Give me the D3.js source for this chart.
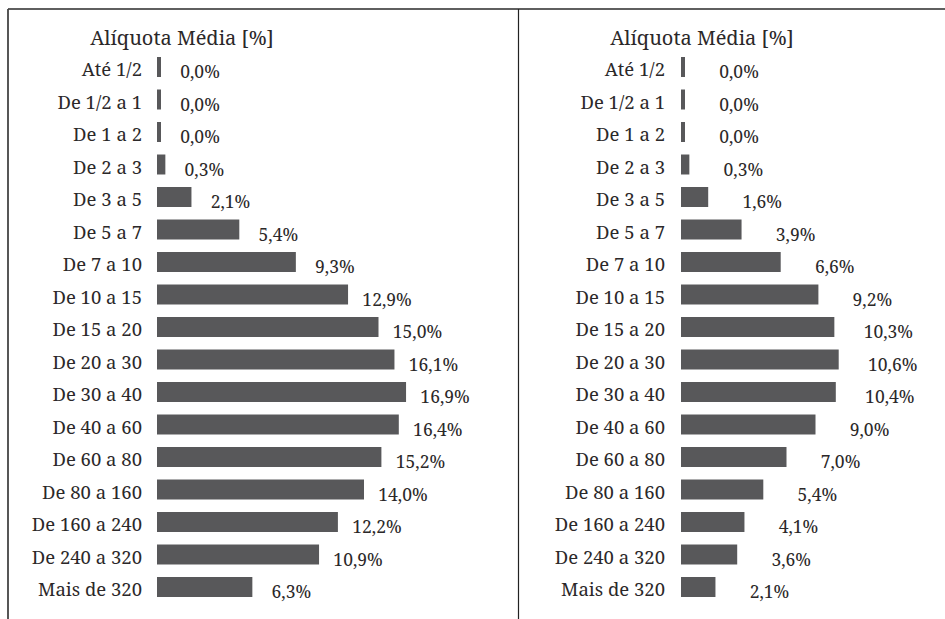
<!DOCTYPE html>
<html>
<head>
<meta charset="utf-8">
<script src="https://cdn.jsdelivr.net/npm/d3@7"></script>
<style>
  body { margin: 0; background: #fff; }
</style>
</head>
<body>
<svg width="945" height="619"></svg>
<script>
var svg = d3.select('svg');

// faixas de renda (em salários mínimos)
var faixas = ["Até 1/2", "De 1/2 a 1", "De 1 a 2", "De 2 a 3", "De 3 a 5", "De 5 a 7",
  "De 7 a 10", "De 10 a 15", "De 15 a 20", "De 20 a 30", "De 30 a 40", "De 40 a 60",
  "De 60 a 80", "De 80 a 160", "De 160 a 240", "De 240 a 320", "Mais de 320"];

var aliquotaEsq = [0.0, 0.0, 0.0, 0.3, 2.1, 5.4, 9.3, 12.9, 15.0, 16.1, 16.9, 16.4, 15.2, 14.0, 12.2, 10.9, 6.3];
var aliquotaDir = [0.0, 0.0, 0.0, 0.3, 1.6, 3.9, 6.6, 9.2, 10.3, 10.6, 10.4, 9.0, 7.0, 5.4, 4.1, 3.6, 2.1];

var titulo = "Alíquota Média [%]";

var fonte = "'Noto Serif', 'Times New Roman', Times, Tinos, FreeSerif, 'Nimbus Roman', 'Liberation Serif', 'DejaVu Serif', Georgia, serif";
var corTexto = "#2b2829";

var pt = d3.formatLocale({decimal: ",", thousands: ".", grouping: [3], currency: ["R$", ""]});
var fmt = pt.format(".1f");

// escala comum aos dois painéis
var x = d3.scaleLinear().domain([0, 20]).range([0, 290]);
var minW = 4;

var y = d3.scaleBand()
  .domain(faixas)
  .range([50.75, 603.25])
  .paddingInner(0.385)
  .paddingOuter(0.1925);

// moldura
svg.append("line").attr("x1", 8).attr("x2", 945).attr("y1", 9).attr("y2", 9)
  .attr("stroke", "#2a2a2a").attr("stroke-width", 1.6);
svg.append("line").attr("x1", 8).attr("x2", 8).attr("y1", 9).attr("y2", 619)
  .attr("stroke", "#444").attr("stroke-width", 1.8);
svg.append("line").attr("x1", 518.5).attr("x2", 518.5).attr("y1", 9).attr("y2", 619)
  .attr("stroke", "#222").attr("stroke-width", 1.2);

var paineis = [
  {valores: aliquotaEsq, x0: 157, labelX: 142, titleX: 182, off: 39},
  {valores: aliquotaDir, x0: 681, labelX: 665, titleX: 702, off: 54}
];

paineis.forEach(function(p) {
  var g = svg.append("g")
    .attr("font-family", fonte)
    .attr("fill", corTexto);
  var dados = faixas.map(function(f, i) { return {faixa: f, v: p.valores[i]}; });

  g.append("text")
    .attr("x", p.titleX)
    .attr("y", 45)
    .attr("text-anchor", "middle")
    .attr("font-size", 20)
    .text(titulo);

  g.selectAll("text.cat")
    .data(dados)
    .enter()
    .append("text")
    .attr("class", "cat")
    .attr("x", p.labelX)
    .attr("y", function(d) { return y(d.faixa) + y.bandwidth() / 2 + 9; })
    .attr("text-anchor", "end")
    .attr("font-size", 18.5)
    .text(function(d) { return d.faixa; });

  g.selectAll("rect")
    .data(dados)
    .enter()
    .append("rect")
    .attr("x", p.x0)
    .attr("y", function(d) { return y(d.faixa); })
    .attr("width", function(d) { return minW + x(d.v); })
    .attr("height", y.bandwidth())
    .attr("fill", "#58585a");

  g.selectAll("text.val")
    .data(dados)
    .enter()
    .append("text")
    .attr("class", "val")
    .attr("x", function(d) { return p.x0 + minW + x(d.v) + p.off; })
    .attr("y", function(d) { return y(d.faixa) + y.bandwidth() / 2 + 11; })
    .attr("text-anchor", "middle")
    .attr("font-size", 17.5)
    .text(function(d) { return fmt(d.v) + "%"; });
});
</script>
</body>
</html>
